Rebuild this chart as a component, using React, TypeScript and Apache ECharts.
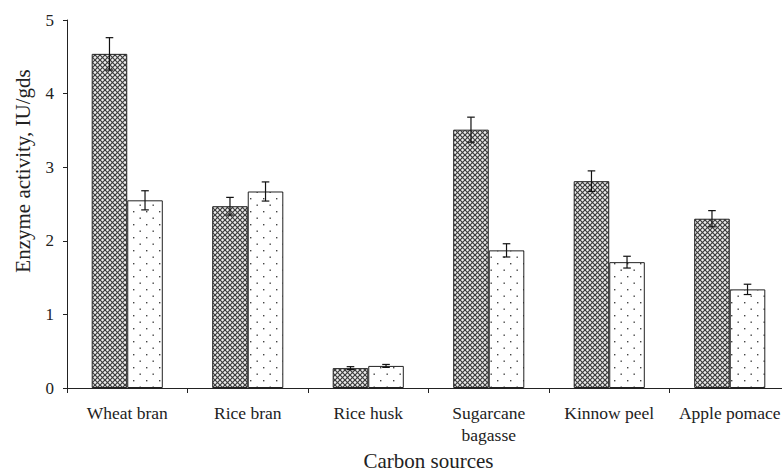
import React, { useEffect, useRef } from "react";
import * as echarts from "echarts";

const categories = ["Wheat bran", "Rice bran", "Rice husk", "Sugarcane\nbagasse", "Kinnow peel", "Apple pomace"];
const seriesA = [4.54, 2.47, 0.27, 3.51, 2.81, 2.30];
const errorsA = [0.22, 0.12, 0.02, 0.17, 0.14, 0.11];
const seriesB = [2.55, 2.67, 0.30, 1.87, 1.71, 1.34];
const errorsB = [0.13, 0.13, 0.02, 0.09, 0.08, 0.07];
const yTicks = [0, 1, 2, 3, 4, 5];
const xAxisTitle = "Carbon sources";
const yAxisTitle = "Enzyme activity, IU/gds";

const FONT = "'Liberation Serif', 'Times New Roman', serif";
const CAT_GAP = 0.41;

function crossPattern(): HTMLCanvasElement {
  const s = 5;
  const c = document.createElement("canvas");
  c.width = s;
  c.height = s;
  const g = c.getContext("2d")!;
  g.fillStyle = "#ececec";
  g.fillRect(0, 0, s, s);
  g.strokeStyle = "#3c3c3c";
  g.lineWidth = 1.2;
  for (let k = -s; k <= 2 * s; k += s) {
    g.beginPath();
    g.moveTo(k, 0);
    g.lineTo(k + s, s);
    g.stroke();
    g.beginPath();
    g.moveTo(k + s, 0);
    g.lineTo(k, s);
    g.stroke();
  }
  return c;
}

function dotPattern(): HTMLCanvasElement {
  const c = document.createElement("canvas");
  c.width = 13;
  c.height = 13;
  const g = c.getContext("2d")!;
  g.fillStyle = "#ffffff";
  g.fillRect(0, 0, 13, 13);
  g.fillStyle = "#444";
  g.fillRect(3, 3, 1.4, 1.4);
  g.fillRect(9.5, 9.5, 1.4, 1.4);
  return c;
}

function errorSeries(values: number[], errs: number[], side: number) {
  return {
    type: "custom",
    z: 10,
    silent: true,
    data: values.map((v, i) => [i, v, errs[i]]),
    renderItem: (params: any, api: any) => {
      const idx = api.value(0);
      const v = api.value(1);
      const e = api.value(2);
      const band = api.size([1, 0])[0];
      const bw = (band * (1 - CAT_GAP)) / 2;
      const top = api.coord([idx, v + e]);
      const bot = api.coord([idx, v - e]);
      const x = top[0] + (side * bw) / 2;
      const cap = 3.8;
      const style = { stroke: "#111", lineWidth: 1.2 };
      return {
        type: "group",
        children: [
          { type: "line", shape: { x1: x, y1: top[1], x2: x, y2: bot[1] }, style },
          { type: "line", shape: { x1: x - cap, y1: top[1], x2: x + cap, y2: top[1] }, style },
          { type: "line", shape: { x1: x - cap, y1: bot[1], x2: x + cap, y2: bot[1] }, style },
        ],
      };
    },
  };
}

export default function App() {
  const ref = useRef<HTMLDivElement>(null);
  useEffect(() => {
    const chart = echarts.init(ref.current!, null, { renderer: "svg" });
    chart.setOption({
      animation: false,
      backgroundColor: "#ffffff",
      grid: { left: 67, top: 20, bottom: 85, right: -8, containLabel: false, outerBoundsMode: "none" },
      graphic: [
        {
          type: "text",
          x: 23,
          y: 171,
          rotation: Math.PI / 2,
          style: {
            text: yAxisTitle,
            fill: "#222",
            font: "21px " + FONT,
            textAlign: "center",
            textVerticalAlign: "middle",
          },
        },
      ],
      xAxis: {
        type: "category",
        data: categories,
        axisLine: { show: true, lineStyle: { color: "#222", width: 1 } },
        axisTick: { show: true, length: 5, alignWithLabel: false, lineStyle: { color: "#222" } },
        axisLabel: { color: "#222", fontFamily: FONT, fontSize: 17.5, lineHeight: 22, margin: 14, interval: 0 },
        name: xAxisTitle,
        nameLocation: "middle",
        nameGap: 62,
        nameTextStyle: { color: "#222", fontFamily: FONT, fontSize: 21 },
      },
      yAxis: {
        type: "value",
        min: yTicks[0],
        max: yTicks[yTicks.length - 1],
        interval: 1,
        axisLine: { show: true, lineStyle: { color: "#222", width: 1 } },
        axisTick: { show: true, length: 4, lineStyle: { color: "#222" } },
        splitLine: { show: false },
        axisLabel: { color: "#222", fontFamily: FONT, fontSize: 17, margin: 13 },
      },
      series: [
        {
          type: "bar",
          data: seriesA,
          barGap: "0%",
          barCategoryGap: CAT_GAP * 100 + "%",
          itemStyle: {
            color: { image: crossPattern(), repeat: "repeat" },
            borderColor: "#222",
            borderWidth: 1,
          },
        },
        {
          type: "bar",
          data: seriesB,
          barGap: "0%",
          barCategoryGap: CAT_GAP * 100 + "%",
          itemStyle: {
            color: { image: dotPattern(), repeat: "repeat" },
            borderColor: "#222",
            borderWidth: 1,
          },
        },
        errorSeries(seriesA, errorsA, -1),
        errorSeries(seriesB, errorsB, 1),
      ],
    });
    return () => chart.dispose();
  }, []);
  return (
    <div
      ref={ref}
      style={{ position: "absolute", left: 0, top: 0, width: 782, height: 473, background: "#fff" }}
    />
  );
}
